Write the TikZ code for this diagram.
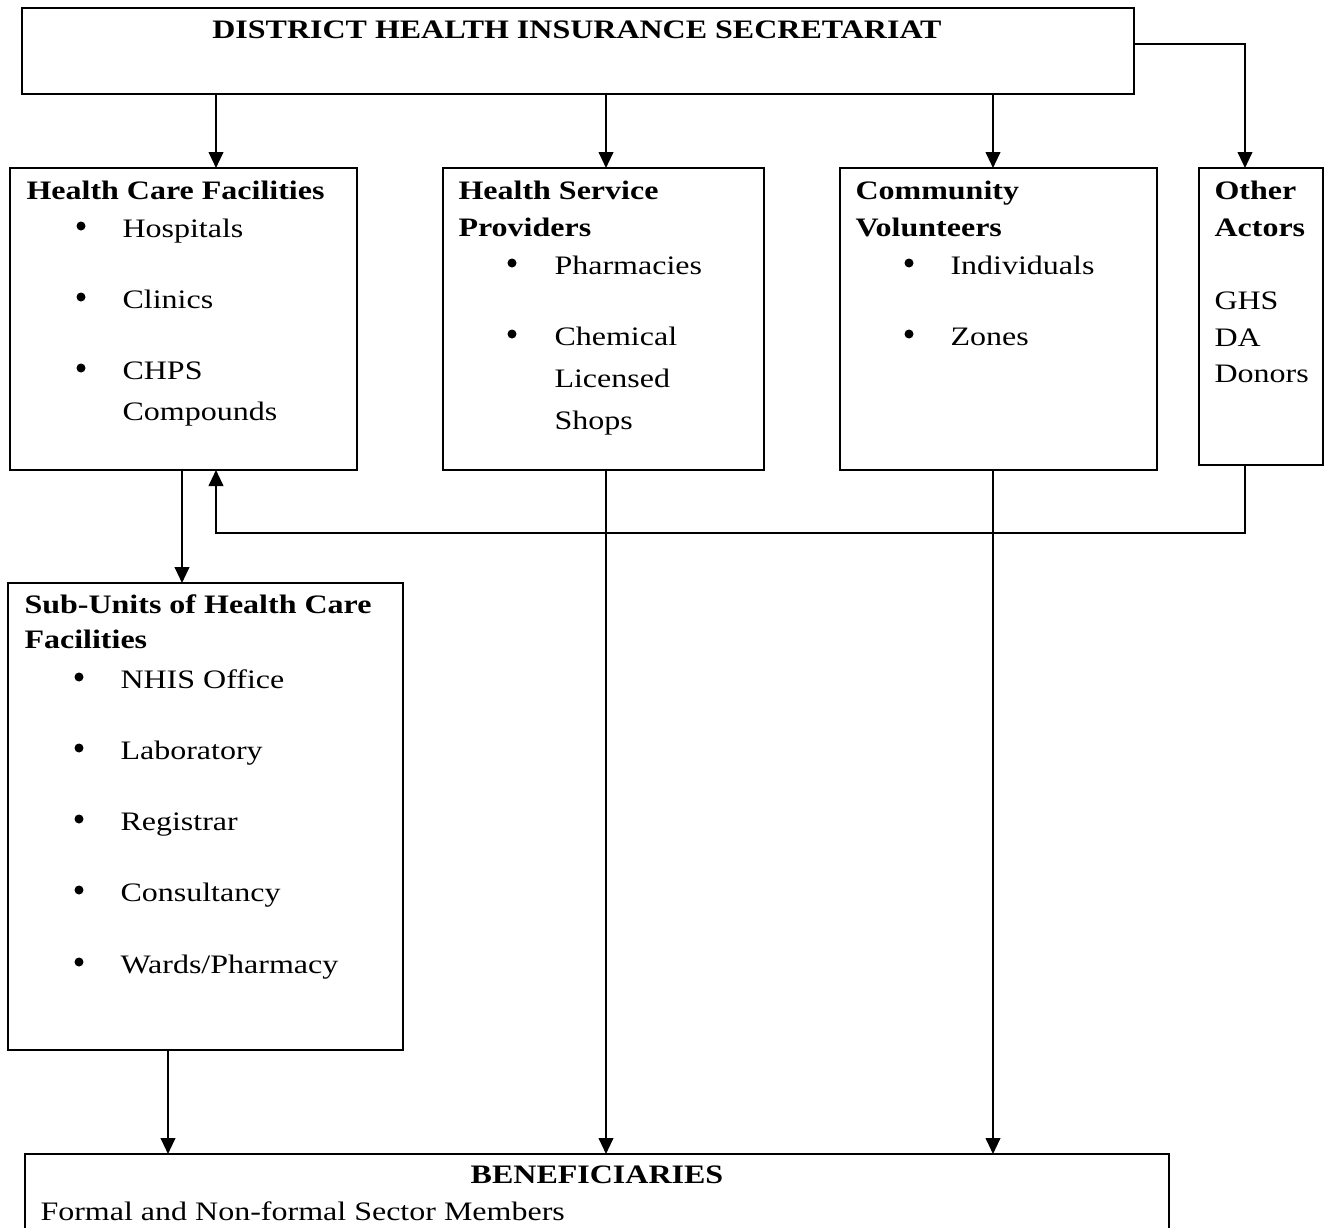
\documentclass[tikz,border=0pt]{standalone}
\usepackage{fontspec}
\setmainfont[FakeStretch=1.2]{Liberation Serif}
\usetikzlibrary{arrows.meta}

\newcommand\px{0.375pt}

\tikzset{
  box/.style={draw, line width=0.75pt, inner sep=0pt, outer sep=0pt},
  arr/.style={line width=0.75pt, -{Triangle[length=6pt,width=5.5pt]}},
  head/.style={anchor=base west, inner sep=0pt, font=\bfseries},
  item/.style={anchor=base west, inner sep=0pt},
  dot/.style={circle, fill, inner sep=0pt, minimum size=9*\px},
}

\begin{document}
\begin{tikzpicture}[x=0.375pt, y=-0.375pt]
\clip (0,0) rectangle (1330,1228);

%Kaesten
	\node[box, minimum width=1112*\px, minimum height=86*\px] (dhis) at (578,51) {};
	\node[box, minimum width=347*\px, minimum height=302*\px] (hcf) at (183.5,319) {};
	\node[box, minimum width=321*\px, minimum height=302*\px] (hsp) at (603.5,319) {};
	\node[box, minimum width=317*\px, minimum height=302*\px] (cv) at (998.5,319) {};
	\node[box, minimum width=124*\px, minimum height=297*\px] (oth) at (1261,316.5) {};
	\node[box, minimum width=395*\px, minimum height=467*\px] (sub) at (205.5,816.5) {};
	\node[box, minimum width=1144*\px, minimum height=106*\px] (ben) at (597,1207) {};

%Texte
	\node[head, anchor=base] (dhis-t) at (577,38) {DISTRICT HEALTH INSURANCE SECRETARIAT};

	\node[head] (hcf-t) at (26,199) {Health Care Facilities};
	\foreach \t/\y [count=\i] in {Hospitals/237, Clinics/308, CHPS/379} {
		\node[dot] (hcf-d\i) at (81,\y-11) {};
		\node[item] (hcf-i\i) at (122,\y) {\t};
	}
	\node[item] (hcf-i4) at (122,420) {Compounds};

	\node[head] (hsp-t1) at (458,199) {Health Service};
	\node[head] (hsp-t2) at (458,236) {Providers};
	\foreach \y [count=\i] in {274,345}
		\node[dot] (hsp-d\i) at (512,\y-11) {};
	\foreach \t/\y [count=\i] in {Pharmacies/274, Chemical/345, Licensed/387, Shops/429}
		\node[item] (hsp-i\i) at (554,\y) {\t};

	\node[head] (cv-t1) at (855,199) {Community};
	\node[head] (cv-t2) at (855,236) {Volunteers};
	\foreach \t/\y [count=\i] in {Individuals/274, Zones/345} {
		\node[dot] (cv-d\i) at (909,\y-11) {};
		\node[item] (cv-i\i) at (950,\y) {\t};
	}

	\node[head] (oth-t1) at (1214,199) {Other};
	\node[head] (oth-t2) at (1214,236) {Actors};
	\foreach \t/\y [count=\i] in {GHS/309, DA/346, Donors/382}
		\node[item] (oth-i\i) at (1214,\y) {\t};

	\node[head] (sub-t1) at (24,613) {Sub-Units of Health Care};
	\node[head] (sub-t2) at (24,648) {Facilities};
	\foreach \t/\y [count=\i] in {NHIS Office/688, Laboratory/759, Registrar/830, Consultancy/901, {Wards/Pharmacy}/973} {
		\node[dot] (sub-d\i) at (79,\y-11) {};
		\node[item] (sub-i\i) at (120,\y) {\t};
	}

	\node[head, anchor=base] (ben-t) at (597,1183) {BENEFICIARIES};
	\node[item] (ben-i) at (40,1220) {Formal and Non-formal Sector Members};

%Pfeile
	\coordinate (ca) at (216,0);
	\coordinate (cb) at (606,0);
	\coordinate (cc) at (993,0);
	\coordinate (cd) at (1245,0);
	\coordinate (ce) at (182,0);
	\coordinate (cf) at (168,0);
	\coordinate (cy) at (0,44);
	\coordinate (fb) at (0,533);

	\draw[arr] (dhis.south -| ca) -- (hcf.north -| ca);
	\draw[arr] (dhis.south -| cb) -- (hsp.north -| cb);
	\draw[arr] (dhis.south -| cc) -- (cv.north -| cc);
	\draw[arr] (dhis.east |- cy) -- (cd |- cy) -- (oth.north -| cd);
	\draw[arr] (hcf.south -| ce) -- (sub.north -| ce);
	\draw[arr] (oth.south -| cd) -- (cd |- fb) -- (ca |- fb) -- (hcf.south -| ca);
	\draw[arr] (hsp.south -| cb) -- (ben.north -| cb);
	\draw[arr] (cv.south -| cc) -- (ben.north -| cc);
	\draw[arr] (sub.south -| cf) -- (ben.north -| cf);

\end{tikzpicture}
\end{document}
